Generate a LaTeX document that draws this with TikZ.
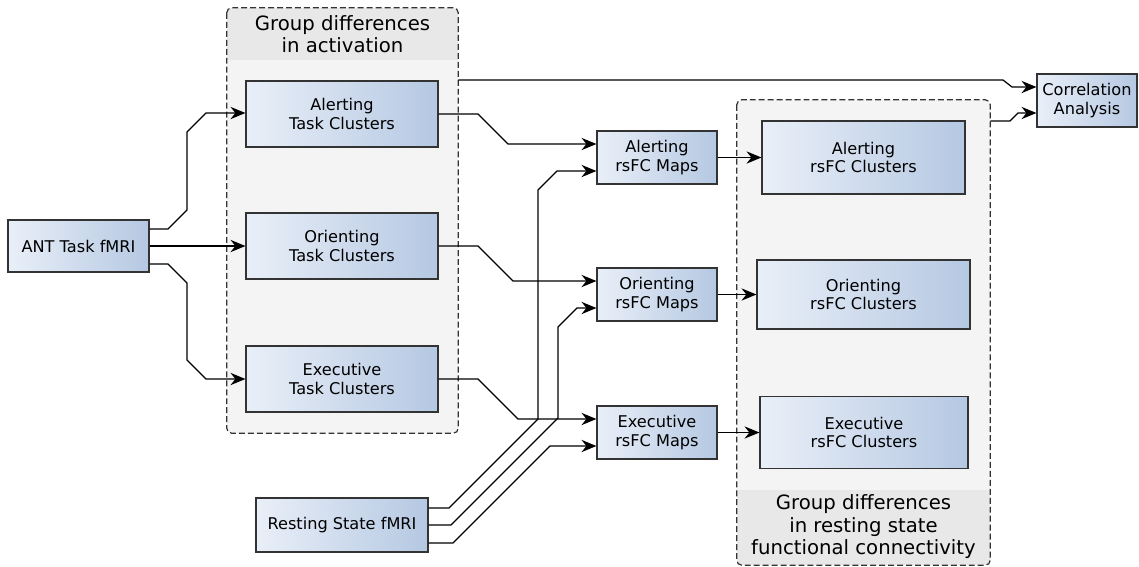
\documentclass[tikz,border=0pt]{standalone}
\usepackage{fontspec}
\setmainfont{DejaVu Sans}
\usetikzlibrary{arrows.meta}
\definecolor{boxl}{HTML}{E9EFF8}
\definecolor{boxr}{HTML}{B5C8E2}
\definecolor{edge}{HTML}{333333}
\definecolor{grpbody}{HTML}{F4F4F4}
\definecolor{grphead}{HTML}{E8E8E8}
\begin{document}
\begin{tikzpicture}[x=0.02cm,y=-0.02cm,
    blk/.style={draw=edge,line width=0.7pt,left color=boxl,right color=boxr,align=center,inner sep=0pt,font=\fontsize{9.2}{10.6}\selectfont},
    grp/.style={draw=edge,line width=0.7pt,dash pattern=on 3.4pt off 1.7pt,rounded corners=3pt},
    lnk/.style={line width=0.7pt,-{Stealth[length=8.5pt,width=7pt,inset=2.8pt]}},
    ttl/.style={align=center,font=\fontsize{11.2}{12.8}\selectfont}]
\useasboundingbox (0,0) rectangle (1139,566);
% group containers
\node[fill=grpbody,rounded corners=3pt,minimum width=4.62cm,minimum height=8.5cm] (gact) at (342.5,220.5) {};
\node[fill=grpbody,rounded corners=3pt,minimum width=5.06cm,minimum height=9.3cm] (grs) at (863.5,332.5) {};
\begin{scope}
  \clip[rounded corners=3pt] (gact.north west) rectangle (gact.south east);
  \fill[grphead] (gact.north west) rectangle (458,60);
\end{scope}
\begin{scope}
  \clip[rounded corners=3pt] (grs.north west) rectangle (grs.south east);
  \fill[grphead] (737,490) rectangle (grs.south east);
\end{scope}
\draw[grp] (gact.north west) rectangle (gact.south east);
\draw[grp] (grs.north west) rectangle (grs.south east);
\node[ttl] (tact) at (342.5,34) {Group differences\\in activation};
\node[ttl] (trs) at (863.5,527) {Group differences\\in resting state\\functional connectivity};
% boxes
\node[blk,minimum width=2.82cm,minimum height=1.04cm] (ant) at (78.5,246) {ANT Task fMRI};
\node[blk,minimum width=3.84cm,minimum height=1.32cm] (atask) at (342,114) {Alerting\\Task Clusters};
\node[blk,minimum width=3.84cm,minimum height=1.32cm] (otask) at (342,246) {Orienting\\Task Clusters};
\node[blk,minimum width=3.84cm,minimum height=1.32cm] (etask) at (342,379) {Executive\\Task Clusters};
\node[blk,minimum width=3.44cm,minimum height=1.08cm] (rest) at (342,525) {Resting State fMRI};
\node[blk,minimum width=2.4cm,minimum height=1.06cm] (amap) at (657,157.5) {Alerting\\rsFC Maps};
\node[blk,minimum width=2.4cm,minimum height=1.06cm] (omap) at (657,294.5) {Orienting\\rsFC Maps};
\node[blk,minimum width=2.4cm,minimum height=1.06cm] (emap) at (657,432.5) {Executive\\rsFC Maps};
\node[blk,minimum width=4.06cm,minimum height=1.46cm] (aclu) at (863.5,157.5) {Alerting\\rsFC Clusters};
\node[blk,minimum width=4.26cm,minimum height=1.38cm] (oclu) at (863.5,294.5) {Orienting\\rsFC Clusters};
\node[blk,minimum width=4.16cm,minimum height=1.44cm] (eclu) at (864,432.5) {Executive\\rsFC Clusters};
\node[blk,minimum width=2.0cm,minimum height=1.06cm] (corr) at (1087,100.5) {Correlation\\Analysis};
% connectors
\draw[lnk] (ant.east |- 0,229) -- (168,229) -- (187,210) -- (187,132) -- (206,113) -- (atask.west |- 0,113);
\draw[lnk] (ant.east) -- (otask.west);
\draw[lnk] (ant.east |- 0,264) -- (168,264) -- (187,283) -- (187,360) -- (206,379) -- (etask.west |- 0,379);
\draw[lnk] (atask.east) -- (478,114) -- (508,144) -- (amap.west |- 0,144);
\draw[lnk] (otask.east) -- (478,246) -- (513,281) -- (omap.west |- 0,281);
\draw[lnk] (etask.east) -- (478,379) -- (518,419) -- (emap.west |- 0,419);
\draw[lnk] (rest.east |- 0,508) -- (449,508) -- (538,419) -- (538,190) -- (557,171) -- (amap.west |- 0,171);
\draw[lnk] (rest.east) -- (451,525) -- (558,418) -- (558,327) -- (577,308) -- (omap.west |- 0,308);
\draw[lnk] (rest.east |- 0,543) -- (453,543) -- (550,446) -- (emap.west |- 0,446);
\draw[lnk] (amap.east) -- (aclu.west);
\draw[lnk] (omap.east) -- (oclu.west);
\draw[lnk] (emap.east) -- (eclu.west);
\draw[lnk] (gact.east |- 0,80) -- (1003,80) -- (1012,87) -- (corr.west |- 0,87);
\draw[lnk] (grs.east |- 0,121) -- (1010,121) -- (1018,113) -- (corr.west |- 0,113);
\end{tikzpicture}
\end{document}
